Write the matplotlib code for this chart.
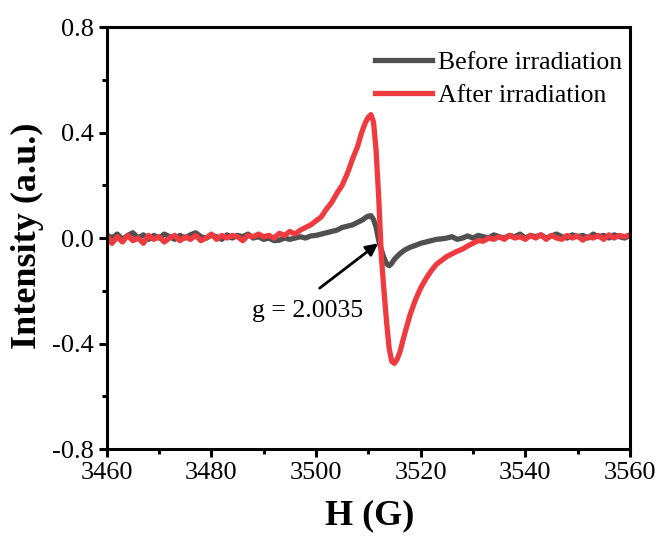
import numpy as np
from matplotlib import pyplot as plt

# magnetic field grid (G), finer around the signal centre
field = np.concatenate([np.arange(3460, 3509), np.arange(3508.5, 3516.5, 0.5), np.arange(3517, 3561)])

before = [
    0.012, 0.0, 0.015, -0.005, 0.01, 0.02, 0.0, 0.012, -0.005, 0.01,
    0.0, 0.015, 0.005, -0.005, 0.01, 0.0, 0.012, 0.02, 0.005, 0.0,
    0.01, 0.005, -0.005, 0.012, 0.0, 0.01, 0.005, 0.015, 0.0, 0.005,
    -0.005, 0.0, -0.01, -0.008, 0.0, -0.005, 0.0, 0.005, 0.0, 0.008,
    0.01, 0.015, 0.02, 0.025, 0.03, 0.04, 0.045, 0.05, 0.06,
    0.065, 0.07, 0.078, 0.083, 0.085, 0.07, 0.04, -0.01,
    -0.045, -0.075, -0.098, -0.105, -0.095, -0.08, -0.07, -0.06,
    -0.045, -0.035, -0.028, -0.02, -0.015, -0.01, -0.005, -0.003, 0.0, 0.005,
    -0.005, 0.0, 0.008, 0.0, 0.01, 0.005, 0.0, 0.012, 0.005, 0.0,
    0.01, 0.005, 0.015, 0.0, 0.01, 0.005, 0.012, 0.0, 0.008, 0.015,
    0.005, 0.0, 0.012, 0.005, 0.01, 0.0, 0.015, 0.005, 0.01, 0.0,
    0.012, 0.005, 0.0, 0.01,
]

after = [
    0.01, -0.02, 0.005, -0.015, 0.01, -0.01, 0.0, -0.02, 0.01, -0.005,
    0.005, -0.015, 0.0, 0.01, -0.01, 0.005, -0.005, 0.01, -0.01, 0.0,
    0.015, -0.005, 0.01, 0.0, 0.01, 0.005, -0.01, 0.01, 0.005, 0.015,
    0.005, 0.01, 0.0, 0.018, 0.01, 0.025, 0.015, 0.03, 0.04, 0.05,
    0.065, 0.08, 0.11, 0.135, 0.17, 0.2, 0.245, 0.3, 0.35,
    0.385, 0.415, 0.44, 0.458, 0.468, 0.44, 0.33, 0.15,
    -0.07, -0.2, -0.32, -0.42, -0.468, -0.475, -0.46, -0.435,
    -0.36, -0.29, -0.235, -0.19, -0.155, -0.125, -0.1, -0.085, -0.07, -0.06,
    -0.05, -0.042, -0.03, -0.02, -0.01, -0.012, 0.0, -0.005, 0.005, -0.005,
    0.01, 0.0, 0.005, -0.005, 0.01, 0.0, 0.012, -0.005, 0.01, 0.0,
    -0.005, 0.01, 0.0, 0.008, -0.008, 0.005, 0.0, 0.01, -0.005, 0.012,
    0.0, 0.01, 0.005, 0.012,
]

x_ticks = [3460, 3480, 3500, 3520, 3540, 3560]
y_ticks = [-0.8, -0.4, 0.0, 0.4, 0.8]

# g-factor marker: arrow tail / head and label position
g_label = 'g = 2.0035'
g_tail = (3500.7, -0.19)
g_head = (3511.9, -0.02)
g_text = (3498.4, -0.275)

plt.rcParams['font.family'] = ['Liberation Serif', 'DejaVu Serif']

fig = plt.figure(figsize=(6.63, 5.41), dpi=100)
ax = fig.add_axes([0.161, 0.170, 0.789, 0.780])

ax.plot(field, before, c='#505050', lw=3.8, label='Before irradiation')
ax.plot(field, after, c='#EF3B3F', lw=3.8, label='After irradiation')

ax.set_xlim(3460, 3560)
ax.set_ylim(-0.8, 0.8)
ax.set_xticks(x_ticks)
ax.set_yticks(y_ticks)
ax.set_yticklabels([f'{v:.1f}' for v in y_ticks])
ax.set_xticks([3470, 3490, 3510, 3530, 3550], minor=True)
ax.set_yticks([-0.6, -0.2, 0.2, 0.6], minor=True)
ax.tick_params(which='major', direction='out', length=6, width=2.2, labelsize=19, pad=3)
ax.tick_params(which='minor', direction='out', length=3.5, width=2.2)
for s in ax.spines.values():
    s.set_linewidth(2.2)

ax.set_xlabel('H (G)', fontsize=26, fontweight='bold')
ax.set_ylabel('Intensity (a.u.)', fontsize=26, fontweight='bold')
ax.xaxis.set_label_coords(0.503, -0.159)
ax.yaxis.set_label_coords(-0.151, 0.505)
ax.xaxis.label.set_va('center')
ax.yaxis.label.set_va('center')

ax.annotate('', xy=g_head, xytext=g_tail,
            arrowprops=dict(arrowstyle='-|>', color='black', lw=2, mutation_scale=18,
                            shrinkA=0, shrinkB=0))
ax.text(*g_text, g_label, fontsize=18.5, ha='center', va='center')

ax.legend(loc='upper right', bbox_to_anchor=(1.019, 0.985), frameon=False, fontsize=18.5,
          handlelength=2.2, handletextpad=0.23, labelspacing=0.37, borderaxespad=0.3)

fig.savefig('out.png', dpi=100)
